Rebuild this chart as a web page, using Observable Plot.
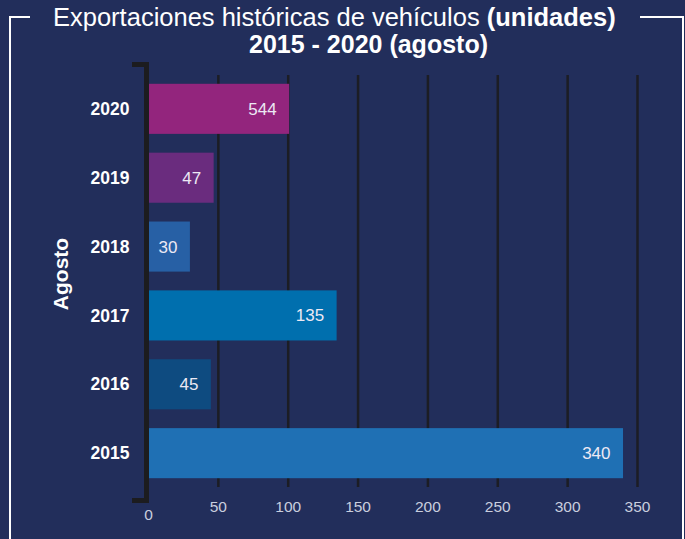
<!DOCTYPE html>
<html>
<head>
<meta charset="utf-8">
<script src="https://cdn.jsdelivr.net/npm/d3@7"></script>
<script src="https://cdn.jsdelivr.net/npm/@observablehq/plot@0.6"></script>
<style>
  body { margin: 0; background: #222e5b; }
  #wrap { position: relative; width: 685px; height: 539px; background: #222e5b; overflow: hidden; font-family: "Liberation Sans", Arial, sans-serif; }
  .ln { position: absolute; background: #ffffff; }
  .title { position: absolute; white-space: nowrap; color: #ffffff; font-size: 25.5px; line-height: 25px; }
  #t1 { left: 53px; top: 5px; font-weight: normal; }
  #t1 b { font-weight: bold; }
  #t2 { left: 249px; top: 32px; font-weight: bold; font-size: 25px; }
  #ylab { position: absolute; left: 61px; top: 274px; transform: translate(-50%, -50%) rotate(-90deg); color: #fff; font-family: "Liberation Sans", Arial, sans-serif; font-weight: bold; font-size: 21px; white-space: nowrap; }
  #chart { position: absolute; left: 0; top: 0; }
</style>
</head>
<body>
<div id="wrap">
  <div class="ln" style="left:9px;top:16px;width:21px;height:2px"></div>
  <div class="ln" style="left:9px;top:16px;width:2px;height:530px"></div>
  <div class="ln" style="left:640px;top:15.5px;width:43.5px;height:2px"></div>
  <div class="ln" style="left:681.5px;top:15.5px;width:2px;height:530px"></div>
  <div class="title" id="t1">Exportaciones históricas de vehículos <b>(unidades)</b></div>
  <div class="title" id="t2">2015 - 2020 (agosto)</div>
  <div id="chart"></div>
  <div id="ylab">Agosto</div>
</div>
<script>
const years = ["2020", "2019", "2018", "2017", "2016", "2015"];
const barLengths = [101, 47, 30, 135, 45, 340];
const valueLabels = ["544", "47", "30", "135", "45", "340"];
const barColors = ["#93257d", "#6a2c7e", "#2760a5", "#006fae", "#0e4b80", "#1f70b4"];
const xTicks = [50, 100, 150, 200, 250, 300, 350];

const data = years.map((y, i) => ({ year: y, len: barLengths[i], label: valueLabels[i], color: barColors[i] }));

const sans = '"Liberation Sans", Arial, sans-serif';

const bracket = (index, scales, values, dims) => {
  const x0 = scales.x(0) - 1.5;
  const top = dims.marginTop - 0.5;
  const bottom = dims.height - dims.marginBottom + 3.5;
  return d3.create("svg:path")
    .attr("d", `M${x0 - 14.5},${top}H${x0}V${bottom}H${x0 - 14.5}`)
    .attr("fill", "none")
    .attr("stroke", "#1c1c1f")
    .attr("stroke-width", 5)
    .attr("stroke-linejoin", "miter")
    .node();
};

const chart = Plot.plot({
  width: 685,
  height: 539,
  marginLeft: 148,
  marginRight: 48,
  marginTop: 65,
  marginBottom: 42,
  style: { background: "transparent", fontFamily: sans, overflow: "visible" },
  x: { domain: [0, 350], axis: null },
  y: { domain: years, padding: 0.273, round: false, axis: null },
  marks: [
    Plot.ruleX(xTicks, { stroke: "#1c1d24", strokeWidth: 2.5, insetTop: 10, insetBottom: 10 }),
    Plot.barX(data, { y: "year", x: "len", fill: d => d.color }),
    Plot.text(data, { y: "year", x: "len", text: "label", textAnchor: "end", dx: -13, fill: "#ece9f4", fontSize: 17, fontFamily: sans }),
    bracket,
    Plot.axisX({ ticks: xTicks, tickSize: 0, tickPadding: 3, fontSize: 15.5, fill: "#c9cedf", fontFamily: sans, tickFormat: d => String(d), label: null }),
    Plot.axisX({ ticks: [0], tickSize: 0, tickPadding: 11, fontSize: 15.5, fill: "#c9cedf", fontFamily: sans, tickFormat: d => String(d), label: null }),
    Plot.axisY({ tickSize: 0, tickPadding: 19, fontSize: 17.5, fontWeight: "bold", fill: "#ffffff", fontFamily: sans, label: null })
  ]
});
document.getElementById("chart").appendChild(chart);
</script>
</body>
</html>
